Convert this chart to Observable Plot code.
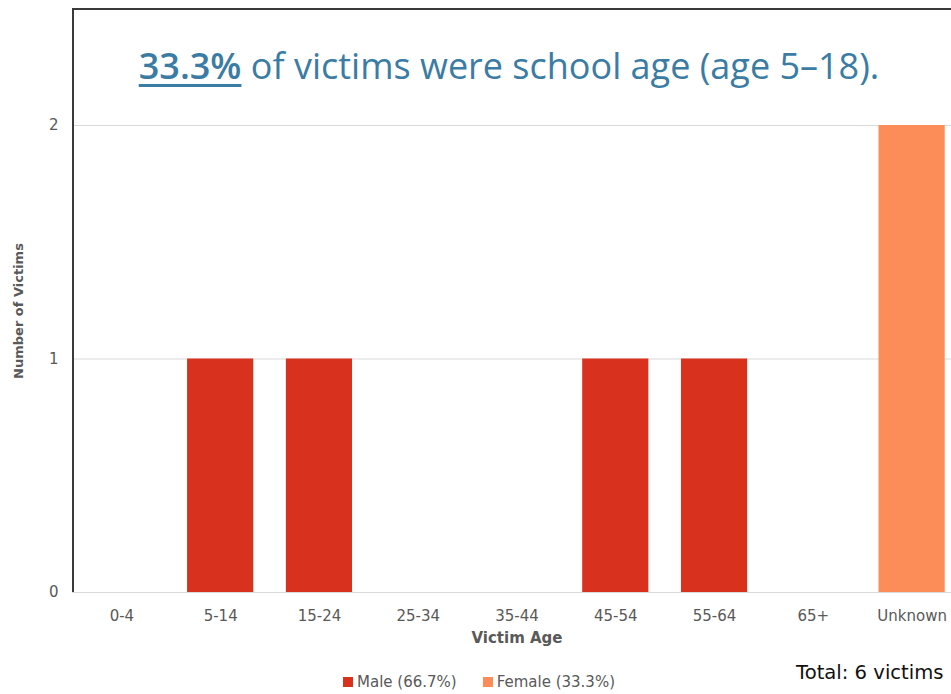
<!DOCTYPE html>
<html>
<head>
<meta charset="utf-8">
<script src="https://cdn.jsdelivr.net/npm/d3@7"></script>
<script src="https://cdn.jsdelivr.net/npm/@observablehq/plot@0.6"></script>
<style>
  html, body { margin: 0; padding: 0; background: #fff; overflow: hidden; width: 951px; height: 694px; }
  #wrap { position: relative; width: 951px; height: 694px; overflow: hidden; }
  #box { position: absolute; left: 72px; top: 8px; width: 900px; height: 584px; border-left: 2px solid #3a3a3a; border-top: 2px solid #3a3a3a; box-sizing: border-box; }
  #title { position: absolute; left: 0; width: 1018px; top: 44px; text-align: center; font-family: "Open Sans", sans-serif; font-size: 36px; line-height: 1.2; color: #3b7ca4; white-space: nowrap; }
  #title u { font-weight: 600; text-decoration-thickness: 2.5px; text-underline-offset: 5px; }
  #chart { position: absolute; left: 0; top: 0; }
  #legend { position: absolute; top: 673px; left: 343px; font-family: "DejaVu Sans", sans-serif; font-size: 15px; color: #595959; white-space: nowrap; }
  #legend span.sw { display: inline-block; width: 10px; height: 10px; margin-right: 4px; vertical-align: 0px; }
  #legend span.item { margin-right: 26px; }
  #total { position: absolute; left: 796px; top: 661px; font-family: "DejaVu Sans", sans-serif; font-size: 19.6px; color: #111; white-space: nowrap; }
  #ylabel { position: absolute; left: 18px; top: 311px; transform: translate(-50%, -50%) rotate(-90deg); font-family: "DejaVu Sans", sans-serif; font-weight: bold; font-size: 13px; color: #595959; white-space: nowrap; }
  #xlabel { position: absolute; left: 517px; top: 629px; transform: translateX(-50%); font-family: "DejaVu Sans", sans-serif; font-weight: bold; font-size: 15px; color: #595959; white-space: nowrap; }
</style>
</head>
<body>
<div id="wrap">
  <div id="chart"></div>
  <div id="box"></div>
  <div id="title"><u>33.3%</u> of victims were school age (age 5–18).</div>
  <div id="ylabel">Number of Victims</div>
  <div id="xlabel">Victim Age</div>
  <div id="legend"></div>
  <div id="total">Total: 6 victims</div>
</div>
<script>
const ageGroups = ["0-4", "5-14", "15-24", "25-34", "35-44", "45-54", "55-64", "65+", "Unknown"];
const maleCounts = [0, 1, 1, 0, 0, 1, 1, 0, 0];
const femaleCounts = [0, 0, 0, 0, 0, 0, 0, 0, 2];
const seriesNames = ["Male", "Female"];
const seriesLabels = ["Male (66.7%)", "Female (33.3%)"];
const seriesColors = ["#d8321f", "#fc8c58"];
const yTicks = [0, 1, 2];

const rows = [];
ageGroups.forEach((a, i) => {
  rows.push({age: a, sex: "Male", count: maleCounts[i]});
  rows.push({age: a, sex: "Female", count: femaleCounts[i]});
});

const plot = Plot.plot({
  width: 951,
  height: 694,
  marginLeft: 72,
  marginRight: -10,
  marginTop: 125,
  marginBottom: 102,
  style: {fontFamily: "DejaVu Sans, sans-serif", color: "#595959", background: "transparent", overflow: "hidden"},
  x: {domain: ageGroups, paddingInner: 0.33, paddingOuter: 0.165, round: false, label: null},
  y: {domain: [0, 2], label: null},
  color: {domain: seriesNames, range: seriesColors},
  marks: [
    Plot.gridY(yTicks, {stroke: "#d9d9d9", strokeOpacity: 1, strokeWidth: 1.2}),
    Plot.barY(rows, {x: "age", y: "count", fill: "sex"}),
    Plot.axisY(yTicks, {tickSize: 0, tickPadding: 14, fontSize: 15, fill: "#595959", label: null, tickFormat: d => String(d)}),
    Plot.axisX({tickSize: 0, tickPadding: 18, fontSize: 15, fill: "#595959", label: null})
  ]
});
document.getElementById("chart").appendChild(plot);

const legend = document.getElementById("legend");
seriesLabels.forEach((lab, i) => {
  const item = document.createElement("span");
  item.className = "item";
  const sw = document.createElement("span");
  sw.className = "sw";
  sw.style.background = seriesColors[i];
  item.appendChild(sw);
  item.appendChild(document.createTextNode(lab));
  legend.appendChild(item);
});
</script>
</body>
</html>
